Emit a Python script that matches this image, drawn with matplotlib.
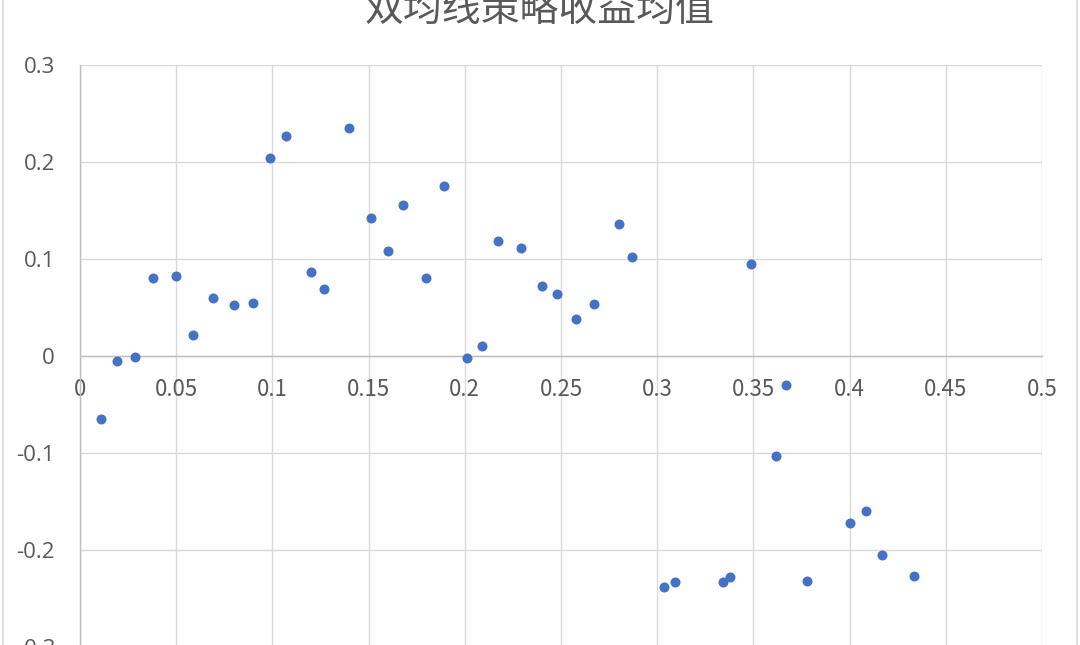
import matplotlib
matplotlib.use("Agg")
import matplotlib.pyplot as plt
from matplotlib.lines import Line2D

plt.rcParams['font.family'] = ['Noto Sans CJK SC', 'DejaVu Sans']

title = "双均线策略收益均值"
x_vals = [0.0109, 0.0192, 0.0286, 0.038, 0.050, 0.0587, 0.069, 0.080, 0.090, 0.099,
          0.107, 0.120, 0.127, 0.140, 0.151, 0.160, 0.168, 0.180, 0.189, 0.201,
          0.209, 0.217, 0.229, 0.240, 0.248, 0.258, 0.267, 0.280, 0.287, 0.3035,
          0.309, 0.334, 0.338, 0.349, 0.367, 0.362, 0.378, 0.400, 0.4085, 0.417, 0.4335]
y_vals = [-0.065, -0.005, -0.001, 0.080, 0.082, 0.022, 0.060, 0.053, 0.055, 0.204,
          0.227, 0.087, 0.069, 0.235, 0.142, 0.108, 0.156, 0.080, 0.175, -0.002,
          0.010, 0.119, 0.111, 0.072, 0.064, 0.038, 0.054, 0.136, 0.102, -0.238,
          -0.233, -0.233, -0.228, 0.095, -0.030, -0.103, -0.232, -0.172, -0.160, -0.205, -0.227]
x_ticks = [0, 0.05, 0.1, 0.15, 0.2, 0.25, 0.3, 0.35, 0.4, 0.45, 0.5]
x_tick_labels = ["0", "0.05", "0.1", "0.15", "0.2", "0.25", "0.3", "0.35", "0.4", "0.45", "0.5"]
y_ticks = [-0.3, -0.2, -0.1, 0, 0.1, 0.2, 0.3]
y_tick_labels = ["-0.3", "-0.2", "-0.1", "0", "0.1", "0.2", "0.3"]

W, H = 1080, 645
fig = plt.figure(figsize=(W / 100, H / 100), dpi=100)
fig.patch.set_facecolor('white')

left, right = 80 / W, 1042 / W
top_px, bot_px = 65, 647
ax = fig.add_axes([left, 1 - bot_px / H, right - left, (bot_px - top_px) / H])
ax.set_xlim(0, 0.5)
ax.set_ylim(-0.3, 0.3)

grid_c = '#D9D9D9'
text_c = '#595959'
ax.set_xticks(x_ticks)
ax.set_xticklabels(x_tick_labels)
ax.set_yticks(y_ticks)
ax.set_yticklabels(y_tick_labels)
ax.grid(True, color=grid_c, linewidth=1.0)
ax.set_axisbelow(True)
ax.tick_params(axis='both', length=0, labelsize=16, labelcolor=text_c)
ax.tick_params(axis='x', pad=16)
ax.tick_params(axis='y', pad=18)
for lab in ax.get_xticklabels() + ax.get_yticklabels():
    lab.set_fontfamily(['Open Sans', 'DejaVu Sans'])

for s in ['top', 'right']:
    ax.spines[s].set_visible(False)
ax.spines['left'].set_color('#BFBFBF')
ax.spines['bottom'].set_color('#BFBFBF')
ax.spines['bottom'].set_position(('data', 0))
ax.spines['left'].set_linewidth(1.0)
ax.spines['bottom'].set_linewidth(1.0)

ax.scatter(x_vals, y_vals, s=52, color='#4472C4', zorder=3, linewidths=0, clip_on=False)

fig.text(0.5, 1 - 10 / H, title, ha='center', va='center', fontsize=28, color=text_c,
         family=['Noto Sans CJK SC', 'DejaVu Sans'])

fig.add_artist(Line2D([3 / W, 3 / W], [0, 1], color=grid_c, linewidth=1.2))
fig.add_artist(Line2D([1077 / W, 1077 / W], [0, 1], color=grid_c, linewidth=1.2))

fig.savefig('out.png', dpi=100)
